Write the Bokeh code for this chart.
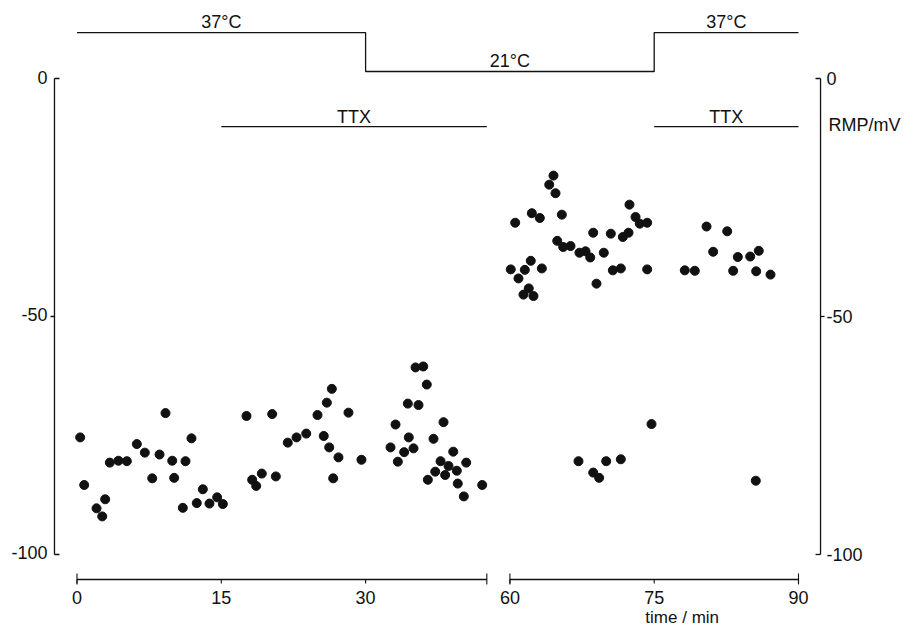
from bokeh.plotting import figure
from bokeh.models import Range1d, ColumnDataSource
from bokeh.core.properties import value
from bokeh.embed import file_html
from bokeh.resources import INLINE

# ---------------- data ----------------
time_min = [
    0.33, 0.75, 2.03, 2.62, 2.93, 3.41, 4.31, 5.18, 6.22, 7.05, 7.82, 8.58, 9.20, 9.90,
    10.10, 11.00, 11.28, 11.90, 12.45, 13.08, 13.77, 14.57, 15.16, 17.62, 18.21, 18.63,
    19.21, 20.29, 20.67, 21.91, 22.82, 23.83, 25.00, 25.65, 25.97, 26.22, 26.49, 26.63,
    27.18, 28.22, 29.57, 32.59, 33.11, 33.35, 34.01, 34.39, 34.49, 34.98, 35.19, 35.50,
    35.99, 36.36, 36.47, 37.06, 37.24, 37.79, 38.10, 38.27, 38.62, 39.11, 39.48, 39.58,
    40.21, 40.46, 42.12,
    60.09, 60.55, 60.89, 61.41, 61.55, 61.96, 62.17, 62.28, 62.45, 63.11, 63.32, 64.09,
    64.53, 64.74, 64.92, 65.40, 65.54, 66.30, 67.23, 67.86, 68.35, 68.66, 69.00, 69.76,
    70.49, 70.70, 71.53, 71.74, 72.33, 72.43, 73.06, 73.50, 74.27, 74.27, 78.18, 79.22,
    80.44, 81.13, 82.59, 83.21, 83.69, 84.98, 85.60, 85.87, 87.09,
    67.13, 68.66, 69.28, 70.01, 71.53, 74.72, 85.56,
]
rmp_mv = [
    -75.4, -85.4, -90.3, -92.0, -88.4, -80.7, -80.3, -80.4, -76.8, -78.6, -84.0, -79.0, -70.3, -80.3,
    -83.9, -90.2, -80.4, -75.6, -89.2, -86.3, -89.3, -88.0, -89.4, -70.9, -84.3, -85.6,
    -83.0, -70.5, -83.6, -76.5, -75.4, -74.6, -70.7, -75.1, -68.1, -77.5, -65.2, -84.0,
    -79.6, -70.2, -80.1, -77.5, -72.7, -80.5, -78.5, -68.3, -75.4, -77.7, -60.7, -68.6,
    -60.5, -64.3, -84.3, -75.7, -82.6, -80.4, -72.2, -83.3, -81.4, -78.4, -82.4, -85.1,
    -87.8, -80.7, -85.4,
    -40.1, -30.3, -42.0, -45.4, -40.2, -44.1, -38.3, -28.3, -45.7, -29.3, -39.9, -22.3,
    -20.4, -24.1, -34.1, -28.6, -35.4, -35.2, -36.6, -36.3, -37.6, -32.4, -43.1, -36.6,
    -32.6, -40.3, -39.9, -33.3, -32.4, -26.5, -29.1, -30.5, -30.3, -40.1, -40.3, -40.4,
    -31.1, -36.4, -32.1, -40.4, -37.5, -37.4, -40.5, -36.2, -41.2,
    -80.4, -82.8, -83.9, -80.4, -80.0, -72.6, -84.5,
]

x_ticks = [0, 15, 30, 60, 75, 90]
y_ticks = [0, -50, -100]
y_tick_labels = ["0", "-50", "-100"]

# temperature protocol: change times and the temperature of each period
temp_change_min = [0, 30, 75, 90]
temp_c = [37, 21, 37]

# TTX application periods (the first one runs into the axis break)
ttx_start = [15, 75]
ttx_end = [42.6, 90]

# axis break: the time scale jumps from ~42.6 min to 60 min
BREAK_LEFT = 42.6
BREAK_RIGHT = 60
GAP = 15  # minutes removed by the break


def tx(t):
    return t if t < 50 else t - GAP


FONT = "Liberation Sans"
INK = "#111111"
LW = 1.3

# layout constants, in plot units (display minutes / mV)
X_LEFT_AXIS = -2.34
X_RIGHT_AXIS = 77.29
TEMP_HI, TEMP_LO = 9.66, 1.47
TTX_Y = -10.1
XAXIS_Y = -105.25
PX_X = 1 / 9.62   # one pixel in x units
PX_Y = 1 / 4.76   # one pixel in y units


def temp_y(c):
    return TEMP_LO + (c - 21) * (TEMP_HI - TEMP_LO) / 16.0


p = figure(
    width=917, height=629,
    x_range=Range1d(-7.952, 87.37), y_range=Range1d(-115.76, 16.39),
    output_backend="svg", toolbar_location=None,
    min_border_left=0, min_border_right=0, min_border_top=0, min_border_bottom=0,
    x_axis_type=None, y_axis_type=None,
)
p.outline_line_color = None
p.grid.visible = False


def txt(xs, ys, texts, align="center", size="18px"):
    src = ColumnDataSource(dict(x=xs, y=ys, t=texts))
    p.text(x="x", y="y", text="t", source=src, text_align=align,
           text_baseline="middle", text_font=value(FONT),
           text_font_size=size, text_color=INK)


# ---- y axes (left and right), bounded to 0 .. -100 ----
p.segment(x0=[X_LEFT_AXIS, X_RIGHT_AXIS], y0=[min(y_ticks)] * 2,
          x1=[X_LEFT_AXIS, X_RIGHT_AXIS], y1=[max(y_ticks)] * 2,
          line_color=INK, line_width=LW)
# tick marks: inward at the ends, outward in the middle
tick_len = [5 * PX_X, -4 * PX_X, 5 * PX_X]
p.segment(x0=[X_LEFT_AXIS] * 3, y0=y_ticks,
          x1=[X_LEFT_AXIS + d for d in tick_len], y1=y_ticks,
          line_color=INK, line_width=LW)
p.segment(x0=[X_RIGHT_AXIS] * 3, y0=y_ticks,
          x1=[X_RIGHT_AXIS - d for d in tick_len], y1=y_ticks,
          line_color=INK, line_width=LW)
txt([X_LEFT_AXIS - 7 * PX_X] * 3, [v + 1.5 * PX_Y for v in y_ticks], y_tick_labels, align="right")
txt([X_RIGHT_AXIS + 6 * PX_X] * 3, [v for v in y_ticks], y_tick_labels, align="left")
txt([X_RIGHT_AXIS + 8 * PX_X], [TTX_Y + 2 * PX_Y], ["RMP/mV"], align="left")

# ---- broken time axis ----
p.segment(x0=[tx(0), tx(BREAK_RIGHT)], y0=[XAXIS_Y] * 2,
          x1=[tx(BREAK_LEFT), tx(90)], y1=[XAXIS_Y] * 2,
          line_color=INK, line_width=LW)
p.segment(x0=[tx(t) for t in x_ticks], y0=[XAXIS_Y] * len(x_ticks),
          x1=[tx(t) for t in x_ticks], y1=[XAXIS_Y - 4 * PX_Y] * len(x_ticks),
          line_color=INK, line_width=1.1)
brk = [tx(BREAK_LEFT), tx(BREAK_RIGHT), tx(0), tx(90)]
p.segment(x0=brk, y0=[XAXIS_Y + 6 * PX_Y] * 4, x1=brk, y1=[XAXIS_Y - 5 * PX_Y] * 4,
          line_color=INK, line_width=1.1)
txt([tx(t) for t in x_ticks], [XAXIS_Y - 18 * PX_Y] * len(x_ticks),
    [str(t) for t in x_ticks], size="18px")
txt([tx(75) + 28 * PX_X], [XAXIS_Y - 38 * PX_Y], ["time / min"], size="17px")

# ---- temperature trace ----
step_x, step_y = [], []
for i, c in enumerate(temp_c):
    step_x += [tx(temp_change_min[i]), tx(temp_change_min[i + 1])]
    step_y += [temp_y(c), temp_y(c)]
p.line(step_x, step_y, line_color=INK, line_width=LW)
txt([(tx(temp_change_min[i]) + tx(temp_change_min[i + 1])) / 2 for i in range(len(temp_c))],
    [temp_y(c) + 11 * PX_Y for c in temp_c],
    [f"{c}°C" for c in temp_c])

# ---- TTX bars ----
p.segment(x0=[tx(t) for t in ttx_start], y0=[TTX_Y] * 2,
          x1=[tx(t) for t in ttx_end], y1=[TTX_Y] * 2, line_color=INK, line_width=LW)
txt([(tx(a) + tx(b)) / 2 for a, b in zip(ttx_start, ttx_end)],
    [TTX_Y + 10 * PX_Y] * 2, ["TTX", "TTX"])

# ---- data points ----
pts = ColumnDataSource(dict(x=[tx(t) for t in time_min], y=rmp_mv))
p.scatter(x="x", y="y", source=pts, size=9, marker="circle",
          fill_color=INK, line_color=INK)

open("out.html", "w").write(file_html(p, INLINE))
